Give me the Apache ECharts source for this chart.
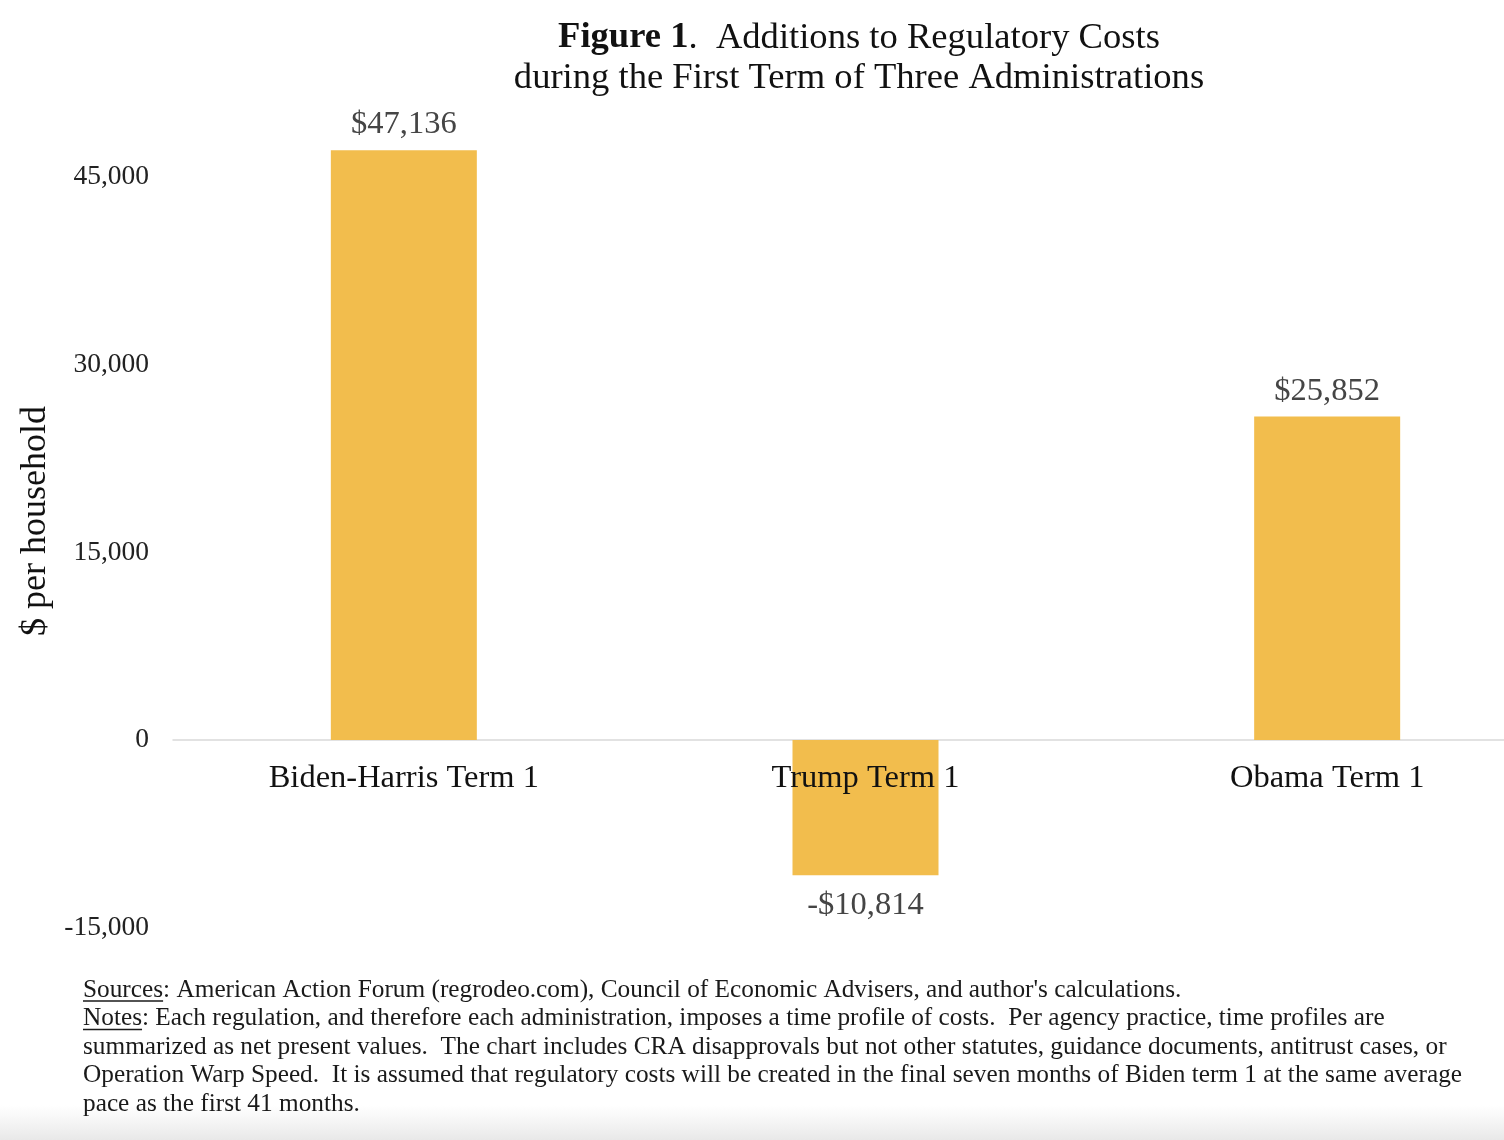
<!DOCTYPE html>
<html>
<head>
<meta charset="utf-8">
<style>
  html, body { margin: 0; padding: 0; background: #fff; }
  #chart { width: 1504px; height: 1140px; }
</style>
<script src="https://cdn.jsdelivr.net/npm/echarts@6/dist/echarts.min.js"></script>
</head>
<body>
<div id="chart"></div>
<script>
var categories = ['Biden-Harris Term 1', 'Trump Term 1', 'Obama Term 1'];
var values = [47136, -10814, 25852];
var yTicks = { min: -15000, max: 50000, interval: 15000 };
var titleLine1Bold = 'Figure 1';
var titleLine1Rest = '.  Additions to Regulatory Costs';
var titleLine2 = 'during the First Term of Three Administrations';
var yAxisName = '$ per household';
var footerLines = [
  ['Sources', ': American Action Forum (regrodeo.com), Council of Economic Advisers, and author\'s calculations.'],
  ['Notes', ': Each regulation, and therefore each administration, imposes a time profile of costs.  Per agency practice, time profiles are'],
  ['', 'summarized as net present values.  The chart includes CRA disapprovals but not other statutes, guidance documents, antitrust cases, or'],
  ['', 'Operation Warp Speed.  It is assumed that regulatory costs will be created in the final seven months of Biden term 1 at the same average'],
  ['', 'pace as the first 41 months.']
];

var SERIF = '"Liberation Serif", "Times New Roman", serif';
var FOOT_SIZE = 25.3;

function fmtNum(v) { return Math.abs(v).toLocaleString('en-US'); }
function fmtAxis(v) { return (v < 0 ? '-' : '') + fmtNum(v); }
function fmtLabel(v) { return (v < 0 ? '-' : '') + '$' + fmtNum(v); }

var measureCtx = document.createElement('canvas').getContext('2d');
measureCtx.font = FOOT_SIZE + 'px ' + SERIF;

var footerX = 83, footerY0 = 990, footerStep = 28.5;
var graphics = [
  {
    type: 'rect', left: 0, top: 1105, silent: true, z: -1,
    shape: { width: 1504, height: 35 },
    style: { fill: new echarts.graphic.LinearGradient(0, 0, 0, 1, [
      { offset: 0, color: 'rgba(235,235,235,0)' },
      { offset: 1, color: 'rgba(232,232,232,1)' }
    ]) }
  }
];
footerLines.forEach(function (ln, i) {
  var y = footerY0 + i * footerStep;
  graphics.push({
    type: 'text', x: footerX, y: y,
    style: {
      text: (ln[0] ? '{u|' + ln[0] + '}' : '') + ln[1],
      font: FOOT_SIZE + 'px ' + SERIF,
      fill: '#1a1a1a',
      verticalAlign: 'middle',
      rich: { u: { fontSize: FOOT_SIZE, fontFamily: SERIF, color: '#1a1a1a' } }
    }
  });
  if (ln[0]) {
    var w = measureCtx.measureText(ln[0]).width;
    graphics.push({
      type: 'line', silent: true,
      shape: { x1: footerX, y1: y + 11, x2: footerX + w, y2: y + 11 },
      style: { stroke: '#1a1a1a', lineWidth: 1.3 }
    });
  }
});

var chart = echarts.init(document.getElementById('chart'));
chart.setOption({
  backgroundColor: '#ffffff',
  animation: false,
  title: {
    text: '{b|' + titleLine1Bold + '}' + titleLine1Rest + '\n' + titleLine2,
    left: 854, top: 13, textAlign: 'center',
    textStyle: {
      fontFamily: SERIF, fontSize: 36.6, fontWeight: 'normal', color: '#111', lineHeight: 40,
      rich: { b: { fontFamily: SERIF, fontSize: 36.6, fontWeight: 'bold', color: '#111', lineHeight: 40 } }
    }
  },
  grid: { left: 173, top: 114.4, width: 1385, height: 813.3, outerBoundsMode: 'none', containLabel: false },
  xAxis: {
    type: 'category',
    data: categories,
    axisLine: { onZero: true, lineStyle: { color: '#d9d9d9', width: 1.5 } },
    axisTick: { show: false },
    axisLabel: { show: false },
    splitLine: { show: false }
  },
  yAxis: {
    type: 'value',
    min: yTicks.min, max: yTicks.max, interval: yTicks.interval,
    name: yAxisName,
    nameLocation: 'middle',
    nameRotate: 90,
    nameGap: 117,
    nameTextStyle: { fontFamily: SERIF, fontSize: 36, color: '#111' },
    axisLine: { show: false },
    axisTick: { show: false },
    splitLine: { show: false },
    axisLabel: {
      fontFamily: SERIF, fontSize: 27.5, color: '#222', margin: 24,
      showMaxLabel: false,
      formatter: fmtAxis
    }
  },
  series: [{
    type: 'bar',
    barWidth: 146,
    barGap: '-100%',
    itemStyle: { color: '#F2BD4D' },
    data: values.map(function (v) {
      return { value: v, label: { position: v < 0 ? 'bottom' : 'top', distance: v < 0 ? 14 : 9 } };
    }),
    label: {
      show: true,
      fontFamily: SERIF, fontSize: 32.5, color: '#454545',
      formatter: function (p) { return fmtLabel(p.value); }
    }
  }, {
    type: 'bar',
    barWidth: 146,
    barGap: '-100%',
    z: 5,
    silent: true,
    itemStyle: { color: 'rgba(0,0,0,0)' },
    data: categories.map(function () { return 0; }),
    label: {
      show: true, position: 'bottom', distance: 22,
      fontFamily: SERIF, fontSize: 32.5, color: '#111',
      formatter: function (p) { return categories[p.dataIndex]; }
    }
  }],
  graphic: graphics
});
</script>
</body>
</html>
